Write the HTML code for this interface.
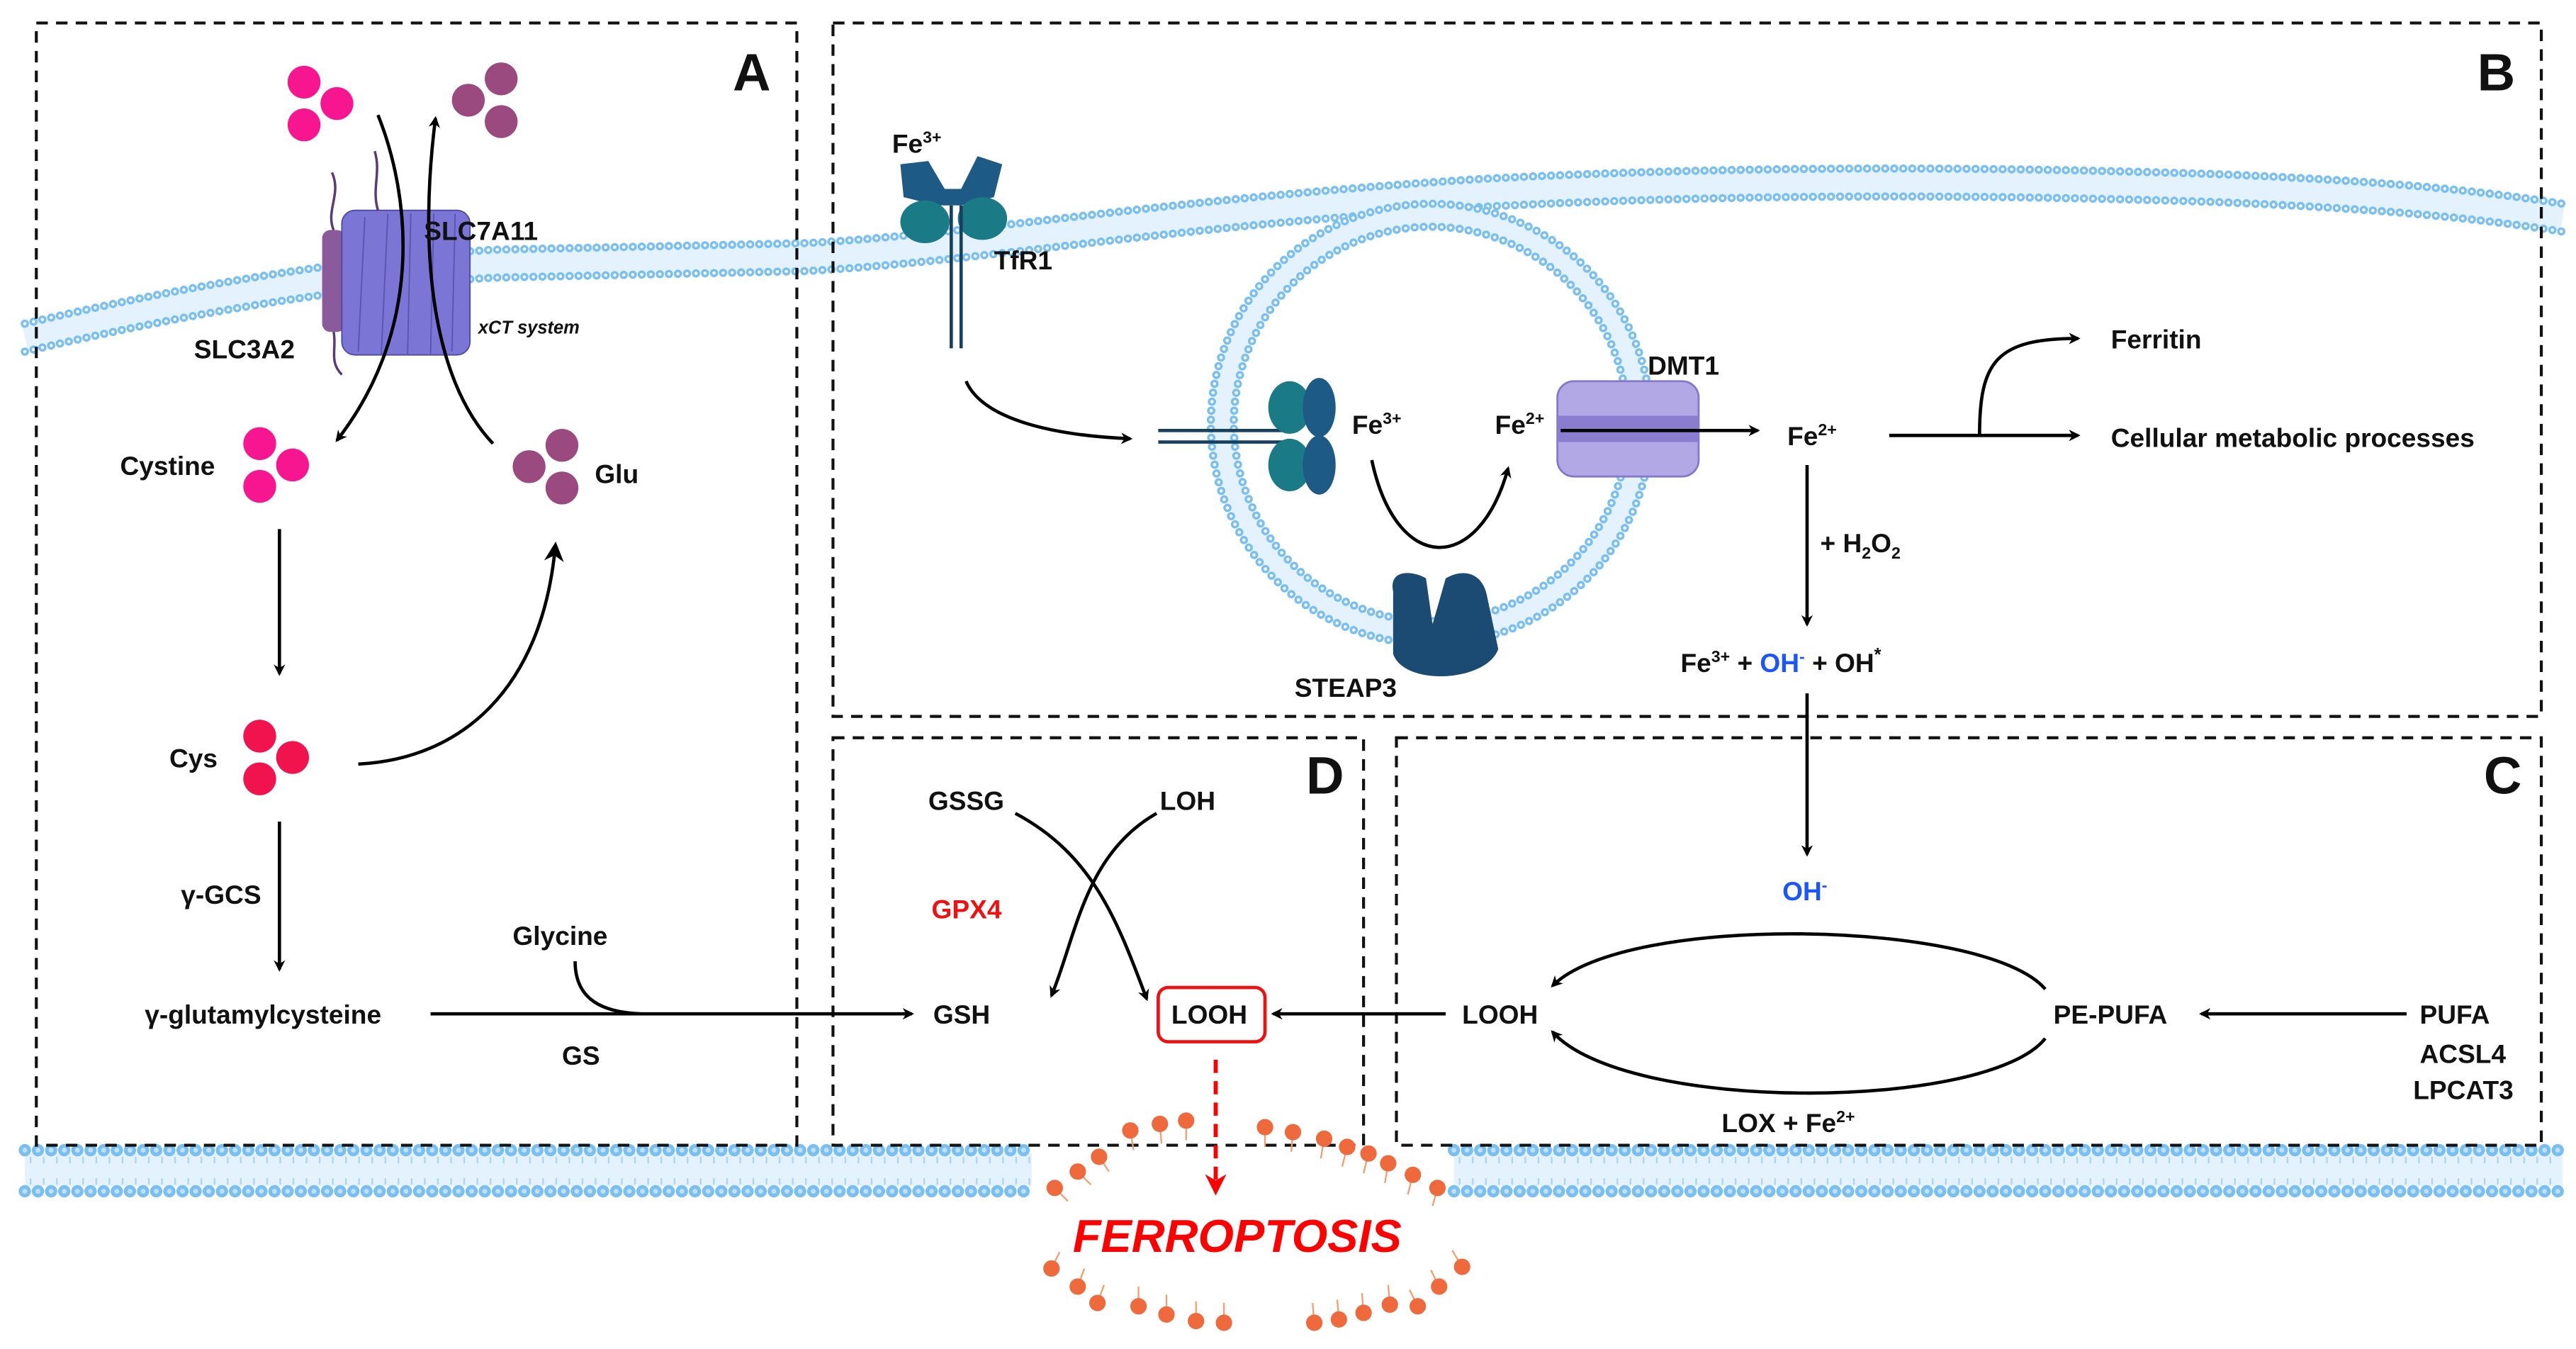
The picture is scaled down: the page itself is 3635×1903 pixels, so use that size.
<!DOCTYPE html>
<html><head><meta charset="utf-8"><style>
html,body{margin:0;padding:0;background:#fff}
svg{display:block}
text{font-family:"Liberation Sans",Arial,sans-serif;font-weight:bold;fill:#111}
</style></head><body>
<svg width="3635" height="1903" viewBox="0 0 1568 821" xmlns="http://www.w3.org/2000/svg">
<defs>
<marker id="ah" viewBox="0 0 10 10" refX="8" refY="5" markerWidth="7" markerHeight="7" orient="auto-start-reverse" markerUnits="userSpaceOnUse"><path d="M0,0 L10,5 L0,10 L3,5 z" fill="#000"/></marker>
<marker id="ahL" viewBox="0 0 10 10" refX="8" refY="5" markerWidth="12" markerHeight="12" orient="auto" markerUnits="userSpaceOnUse"><path d="M0,0 L10,5 L0,10 L3,5 z" fill="#000"/></marker>
<marker id="ahR" viewBox="0 0 10 10" refX="8" refY="5" markerWidth="13" markerHeight="13" orient="auto" markerUnits="userSpaceOnUse"><path d="M0,0 L10,5 L0,10 L3,5 z" fill="#f00"/></marker>
<path id="mem" d="M15,205 C100,185 200,166 300,160 L490,156 C600,150 700,130 900,117 C1050,109 1200,109 1350,114 C1450,118 1510,124 1560,132"/>
</defs>
<rect width="1568" height="821" fill="#fff"/>

<!-- top membrane -->
<g fill="none">
<use href="#mem" stroke="#e4f2fd" stroke-width="18"/>
<g transform="translate(0,-8)">
<use href="#mem" stroke="#79bff2" stroke-width="5" stroke-dasharray="0 5.5" stroke-linecap="round"/>
<use href="#mem" stroke="#fff" stroke-width="2" stroke-dasharray="0 5.5" stroke-linecap="round"/>
</g>
<g transform="translate(0,9)">
<use href="#mem" stroke="#79bff2" stroke-width="5" stroke-dasharray="0 5.5" stroke-linecap="round"/>
<use href="#mem" stroke="#fff" stroke-width="2" stroke-dasharray="0 5.5" stroke-linecap="round"/>
</g>
<!-- vesicle -->
<circle cx="871" cy="258" r="127" stroke="#e4f2fd" stroke-width="14"/>
<circle cx="871" cy="258" r="134" stroke="#79bff2" stroke-width="5" stroke-dasharray="0 5.5" stroke-linecap="round"/>
<circle cx="871" cy="258" r="134" stroke="#fff" stroke-width="2" stroke-dasharray="0 5.5" stroke-linecap="round"/>
<circle cx="871" cy="258" r="120" stroke="#79bff2" stroke-width="5" stroke-dasharray="0 5.5" stroke-linecap="round"/>
<circle cx="871" cy="258" r="120" stroke="#fff" stroke-width="2" stroke-dasharray="0 5.5" stroke-linecap="round"/>
<!-- bottom membrane -->
<path d="M15,712 L628,712 M885,712 L1560,712" stroke="#e4f2fd" stroke-width="20"/>
<path d="M15,700 L628,700 M885,700 L1560,700 M15,725 L628,725 M885,725 L1560,725" stroke="#79bff2" stroke-width="7.5" stroke-dasharray="0 8" stroke-linecap="round"/>
<path d="M15,700 L628,700 M885,700 L1560,700 M15,725 L628,725 M885,725 L1560,725" stroke="#bfe0f8" stroke-width="3" stroke-dasharray="0 8" stroke-linecap="round"/>
<path d="M18,706 L628,706 M18,719 L628,719 M888,706 L1560,706 M888,719 L1560,719" stroke="#a9d6f6" stroke-width="4" stroke-dasharray="1 7"/>
</g>

<!-- dashed boxes -->
<g fill="none" stroke="#111" stroke-width="1.8" stroke-dasharray="7 5">
<rect x="22" y="14" width="463" height="683"/>
<rect x="507" y="14" width="1040" height="422"/>
<rect x="507" y="449" width="323" height="248"/>
<rect x="850" y="449" width="697" height="248"/>
</g>
<text x="446" y="55" font-size="32">A</text>
<text x="1508" y="55" font-size="32">B</text>
<text x="1512" y="483" font-size="32">C</text>
<text x="795" y="483" font-size="32">D</text>

<!-- Panel A -->
<g fill="#f7168f"><circle cx="185" cy="50" r="10"/><circle cx="205" cy="63" r="10"/><circle cx="185" cy="76" r="10"/></g>
<g fill="#9a4a7e"><circle cx="305" cy="48" r="10"/><circle cx="285" cy="61" r="10"/><circle cx="305" cy="74" r="10"/></g>
<rect x="196" y="140" width="14" height="62" rx="5" fill="#8a5a9a"/>
<path d="M203,140 C198,128 208,118 202,105 M203,202 C205,212 200,220 208,228" stroke="#5b3a78" stroke-width="1.5" fill="none"/>
<rect x="208" y="128" width="78" height="88" rx="8" fill="#7b76d6" stroke="#4f4aa3" stroke-width="0.8"/>
<g stroke="#5954b0" stroke-width="0.8"><line x1="222" y1="132" x2="218" y2="214"/><line x1="236" y1="130" x2="232" y2="216"/><line x1="250" y1="130" x2="248" y2="216"/><line x1="264" y1="130" x2="262" y2="216"/><line x1="277" y1="130" x2="275" y2="214"/></g>
<path d="M230,128 C226,115 232,105 228,92" stroke="#5b3a78" stroke-width="1.5" fill="none"/>
<path d="M230,70 C250,120 258,200 205,268" fill="none" stroke="#000" stroke-width="2" marker-end="url(#ah)"/>
<path d="M300,270 C262,230 255,150 265,72" fill="none" stroke="#000" stroke-width="2" marker-end="url(#ah)"/>
<text x="258" y="146" font-size="16">SLC7A11</text>
<text x="118" y="218" font-size="16">SLC3A2</text>
<text x="291" y="203" font-size="11" font-style="italic" font-weight="normal">xCT system</text>
<text x="73" y="289" font-size="16">Cystine</text>
<g fill="#f7168f"><circle cx="158" cy="270" r="10"/><circle cx="178" cy="283" r="10"/><circle cx="158" cy="296" r="10"/></g>
<g fill="#9a4a7e"><circle cx="342" cy="271" r="10"/><circle cx="322" cy="284" r="10"/><circle cx="342" cy="297" r="10"/></g>
<text x="362" y="294" font-size="16">Glu</text>
<line x1="170" y1="322" x2="170" y2="410" stroke="#000" stroke-width="2" marker-end="url(#ah)"/>
<text x="103" y="467" font-size="16">Cys</text>
<g fill="#f0134d"><circle cx="158" cy="448" r="10"/><circle cx="178" cy="461" r="10"/><circle cx="158" cy="474" r="10"/></g>
<path d="M218,465 C280,462 330,420 338,332" fill="none" stroke="#000" stroke-width="2" marker-end="url(#ahL)"/>
<text x="110" y="550" font-size="16">γ-GCS</text>
<line x1="170" y1="500" x2="170" y2="590" stroke="#000" stroke-width="2" marker-end="url(#ah)"/>
<text x="88" y="623" font-size="16">γ-glutamylcysteine</text>
<line x1="262" y1="617" x2="555" y2="617" stroke="#000" stroke-width="2" marker-end="url(#ah)"/>
<path d="M350,585 C350,605 362,616 390,617" fill="none" stroke="#000" stroke-width="2"/>
<text x="312" y="575" font-size="16">Glycine</text>
<text x="342" y="648" font-size="16">GS</text>

<!-- Panel B -->
<text x="543" y="93" font-size="16">Fe<tspan font-size="10" dy="-6">3+</tspan></text>
<path d="M548,100 L565,98 L575,115 L585,115 L595,95 L610,100 L605,120 L585,125 L570,125 L550,120z" fill="#1e5a86"/>
<g fill="#1a7a86"><ellipse cx="563" cy="135" rx="15" ry="13"/><ellipse cx="598" cy="133" rx="15" ry="13"/></g>
<path d="M579,125 L579,212 M585,125 L585,212" stroke="#17405f" stroke-width="2"/>
<text x="605" y="164" font-size="16">TfR1</text>
<path d="M588,232 C598,255 640,265 688,267" fill="none" stroke="#000" stroke-width="2" marker-end="url(#ah)"/>
<path d="M705,262 L790,262 M705,269 L790,269" stroke="#17405f" stroke-width="2"/>
<g fill="#1a7a86"><ellipse cx="785" cy="248" rx="13" ry="16"/><ellipse cx="785" cy="283" rx="13" ry="16"/></g>
<g fill="#1e5a86"><ellipse cx="803" cy="248" rx="10" ry="18"/><ellipse cx="803" cy="283" rx="10" ry="18"/></g>
<text x="823" y="264" font-size="16">Fe<tspan font-size="10" dy="-6">3+</tspan></text>
<path d="M835,280 C850,350 900,350 918,285" fill="none" stroke="#000" stroke-width="2" marker-end="url(#ah)"/>
<text x="910" y="264" font-size="16">Fe<tspan font-size="10" dy="-6">2+</tspan></text>
<text x="1003" y="228" font-size="16">DMT1</text>
<rect x="948" y="232" width="86" height="58" rx="10" fill="#b3a8e6" stroke="#8779c9" stroke-width="1.2"/>
<rect x="948" y="253" width="86" height="16" fill="#8a7dcf"/>
<line x1="950" y1="262" x2="1070" y2="262" stroke="#000" stroke-width="2" marker-end="url(#ah)"/>
<text x="1088" y="271" font-size="16">Fe<tspan font-size="10" dy="-6">2+</tspan></text>
<line x1="1150" y1="265" x2="1265" y2="265" stroke="#000" stroke-width="2" marker-end="url(#ah)"/>
<path d="M1205,265 C1205,220 1215,206 1265,206" fill="none" stroke="#000" stroke-width="2" marker-end="url(#ah)"/>
<text x="1285" y="212" font-size="16">Ferritin</text>
<text x="1285" y="272" font-size="16">Cellular metabolic processes</text>
<line x1="1100" y1="283" x2="1100" y2="380" stroke="#000" stroke-width="2" marker-end="url(#ah)"/>
<text x="1108" y="336" font-size="16">+ H<tspan font-size="10" dy="4">2</tspan><tspan dy="-4">O</tspan><tspan font-size="10" dy="4">2</tspan></text>
<text x="1023" y="409" font-size="16">Fe<tspan font-size="10" dy="-6">3+</tspan><tspan dy="6"> + </tspan><tspan style="fill:#1a55ff">OH</tspan><tspan font-size="10" dy="-6" style="fill:#1a55ff">-</tspan><tspan dy="6"> + OH</tspan><tspan font-size="11" dy="-7">*</tspan></text>
<path d="M848,360 C845,345 862,348 868,352 L872,380 L880,352 C890,346 902,348 905,362 L912,395 C905,415 855,418 848,398z" fill="#1b4a72"/>
<text x="788" y="424" font-size="16">STEAP3</text>
<line x1="1100" y1="422" x2="1100" y2="520" stroke="#000" stroke-width="2" marker-end="url(#ah)"/>

<!-- Panel C -->
<text x="1085" y="548" font-size="16" style="fill:#1a55ff">OH<tspan font-size="10" dy="-6">-</tspan></text>
<path d="M1245,602 C1210,560 990,555 945,600" fill="none" stroke="#000" stroke-width="2" marker-end="url(#ah)"/>
<path d="M1245,632 C1210,676 990,678 945,628" fill="none" stroke="#000" stroke-width="2" marker-end="url(#ah)"/>
<text x="890" y="623" font-size="16">LOOH</text>
<text x="1250" y="623" font-size="16">PE-PUFA</text>
<text x="1473" y="623" font-size="16">PUFA</text>
<line x1="1465" y1="617" x2="1340" y2="617" stroke="#000" stroke-width="2" marker-end="url(#ah)"/>
<text x="1473" y="647" font-size="16">ACSL4</text>
<text x="1469" y="669" font-size="16">LPCAT3</text>
<text x="1048" y="689" font-size="16">LOX + Fe<tspan font-size="10" dy="-6">2+</tspan></text>
<line x1="880" y1="617" x2="775" y2="617" stroke="#000" stroke-width="2" marker-end="url(#ah)"/>

<!-- Panel D -->
<text x="565" y="493" font-size="16">GSSG</text>
<text x="706" y="493" font-size="16">LOH</text>
<text x="567" y="559" font-size="16" style="fill:#f01010">GPX4</text>
<text x="568" y="623" font-size="16">GSH</text>
<rect x="705" y="601" width="65" height="33" rx="6" fill="#fff" stroke="#f01010" stroke-width="2"/>
<text x="713" y="623" font-size="16">LOOH</text>
<path d="M618,495 C665,520 680,560 698,608" fill="none" stroke="#000" stroke-width="2" marker-end="url(#ah)"/>
<path d="M704,495 C660,520 655,570 640,606" fill="none" stroke="#000" stroke-width="2" marker-end="url(#ah)"/>
<line x1="740" y1="645" x2="740" y2="725" stroke="#f00" stroke-width="2.5" stroke-dasharray="8 5" marker-end="url(#ahR)"/>

<!-- ferroptosis lipids -->
<g stroke="#f0a070" stroke-width="1" fill="none">
<path d="M688,688 l2,12 M706,684 l1,12 M722,682 l0,12 M770,686 l0,12 M787,689 l-1,12 M806,693 l-2,12 M820,698 l-3,12 M833,702 l-3,12 M642,723 l8,8 M656,713 l8,8 M669,704 l6,9 M845,708 l-2,12 M860,715 l-3,12 M875,723 l-3,11 M640,772 l5,-10 M656,783 l4,-11 M668,793 l4,-11 M693,795 l0,-12 M710,800 l0,-12 M728,804 l0,-12 M745,805 l0,-12 M800,805 l-1,-12 M815,803 l-1,-12 M830,799 l-1,-12 M846,794 l-1,-12 M863,795 l-5,-10 M876,783 l-5,-10 M890,771 l-6,-10"/>
</g>
<g fill="#ee6a3c">
<circle cx="688" cy="688" r="5"/><circle cx="706" cy="684" r="5"/><circle cx="722" cy="682" r="5"/>
<circle cx="770" cy="686" r="5"/><circle cx="787" cy="689" r="5"/><circle cx="806" cy="693" r="5"/><circle cx="820" cy="698" r="5"/><circle cx="833" cy="702" r="5"/>
<circle cx="642" cy="723" r="5"/><circle cx="656" cy="713" r="5"/><circle cx="669" cy="704" r="5"/>
<circle cx="845" cy="708" r="5"/><circle cx="860" cy="715" r="5"/><circle cx="875" cy="723" r="5"/>
<circle cx="640" cy="772" r="5"/><circle cx="656" cy="783" r="5"/><circle cx="668" cy="793" r="5"/>
<circle cx="693" cy="795" r="5"/><circle cx="710" cy="800" r="5"/><circle cx="728" cy="804" r="5"/><circle cx="745" cy="805" r="5"/>
<circle cx="800" cy="805" r="5"/><circle cx="815" cy="803" r="5"/><circle cx="830" cy="799" r="5"/><circle cx="846" cy="794" r="5"/>
<circle cx="863" cy="795" r="5"/><circle cx="876" cy="783" r="5"/><circle cx="890" cy="771" r="5"/>
</g>
<text x="653" y="762" font-size="28" font-style="italic" style="fill:#f00">FERROPTOSIS</text>
</svg>
</body></html>
